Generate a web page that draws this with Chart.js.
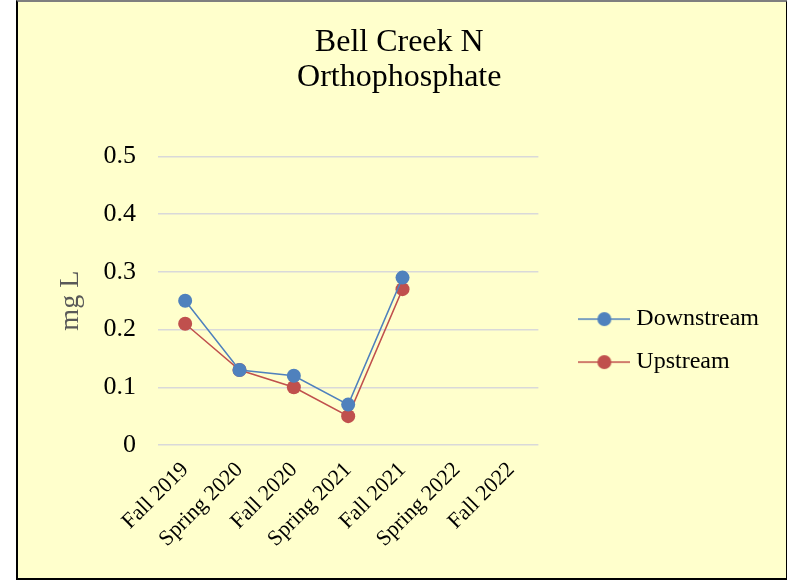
<!DOCTYPE html>
<html>
<head>
<meta charset="utf-8">
<script src="https://cdn.jsdelivr.net/npm/chart.js@4/dist/chart.umd.min.js"></script>
<style>
  body { margin: 0; background: #ffffff; }
  #frame {
    position: absolute; left: 16px; top: 0px;
    width: 768px; height: 576px;
    border: 2px solid #000000; border-top-color: #7f7f7f;
    background: #ffffcc;
  }
  #graph { display: block; }
</style>
</head>
<body>
<div id="frame"><canvas id="graph" width="768" height="576"></canvas></div>
<script>
// sampling seasons
const seasons = ['Fall 2019', 'Spring 2020', 'Fall 2020', 'Spring 2021', 'Fall 2021', 'Spring 2022', 'Fall 2022']
// orthophosphate, mg L
const downstream = [0.25, 0.13, 0.12, 0.07, 0.29, null, null]
const upstream = [0.21, 0.13, 0.10, 0.05, 0.27, null, null]
const yTicks = [0, 0.1, 0.2, 0.3, 0.4, 0.5]

const BLUE = '#4f81bd'
const RED = '#c0504d'
const SERIF = "'Liberation Serif', 'Times New Roman', serif"

// legend swatch: short line with a marker in the middle
function swatch(color)
{
    const c = document.createElement('canvas')
    c.width = 52
    c.height = 16
    const ctx = c.getContext('2d')
    ctx.strokeStyle = color
    ctx.lineWidth = 1.5
    ctx.beginPath()
    ctx.moveTo(0, 8)
    ctx.lineTo(52, 8)
    ctx.stroke()
    ctx.fillStyle = color
    ctx.beginPath()
    ctx.arc(26, 8, 7, 0, Math.PI * 2)
    ctx.fill()
    return c
}

new Chart(document.querySelector('#graph'),
{
    type: 'line',
    data:
    {
        labels: seasons,
        datasets:
        [
            {
                label: 'Downstream',
                data: downstream,
                borderColor: BLUE,
                backgroundColor: BLUE,
                borderWidth: 1.5,
                pointStyle: 'circle',
                pointRadius: 7,
                pointBorderWidth: 0,
                tension: 0
            },
            {
                label: 'Upstream',
                data: upstream,
                borderColor: RED,
                backgroundColor: RED,
                borderWidth: 1.5,
                pointStyle: 'circle',
                pointRadius: 7,
                pointBorderWidth: 0,
                tension: 0
            }
        ]
    },
    options:
    {
        responsive: false,
        animation: false,
        layout: {padding: {left: 11.5, right: 17, top: 0, bottom: 0}},
        plugins:
        {
            title:
            {
                display: true,
                text: ['Bell Creek N', 'Orthophosphate'],
                color: '#000000',
                font: {family: SERIF, size: 32, weight: 'normal', lineHeight: 1.1},
                padding: {top: 23, bottom: 61}
            },
            legend:
            {
                position: 'right',
                maxWidth: 400,
                // empty title only pushes the entries down
                title: {display: true, text: '', font: {size: 1}, padding: {top: 100, bottom: 0}},
                labels:
                {
                    usePointStyle: true,
                    pointStyleWidth: 40,
                    color: '#000000',
                    font: {family: SERIF, size: 24},
                    padding: 19,
                    generateLabels(chart)
                    {
                        return chart.data.datasets.map((ds, i) => ({
                            text: ds.label,
                            pointStyle: swatch(ds.borderColor),
                            fillStyle: ds.borderColor,
                            strokeStyle: ds.borderColor,
                            fontColor: '#000000',
                            lineWidth: 0,
                            hidden: false,
                            datasetIndex: i
                        }))
                    }
                }
            },
            tooltip: {enabled: false}
        },
        scales:
        {
            x:
            {
                offset: true,
                grid: {display: false},
                border: {display: false},
                ticks:
                {
                    color: '#000000',
                    font: {family: SERIF, size: 22},
                    minRotation: 45,
                    maxRotation: 45,
                    autoSkip: false,
                    padding: 4
                },
                afterFit(scale) { scale.height = 133 }
            },
            y:
            {
                min: 0,
                max: 0.5,
                afterBuildTicks(scale) { scale.ticks = yTicks.map(v => ({value: v})) },
                grid: {color: '#d9d9d9', lineWidth: 1.5, drawTicks: false},
                border: {display: false},
                ticks:
                {
                    color: '#000000',
                    font: {family: SERIF, size: 26},
                    padding: 22
                },
                title:
                {
                    display: true,
                    text: 'mg L',
                    color: '#595959',
                    font: {family: SERIF, size: 28},
                    padding: {top: 24.5, bottom: 0}
                },
                afterFit(scale) { scale.width = 128.5 }
            },
            gap:
            {
                position: 'right',
                display: true,
                grid: {display: false},
                border: {display: false},
                ticks: {display: false},
                afterFit(scale) { scale.width = 27 }
            }
        }
    }
})
</script>
</body>
</html>
